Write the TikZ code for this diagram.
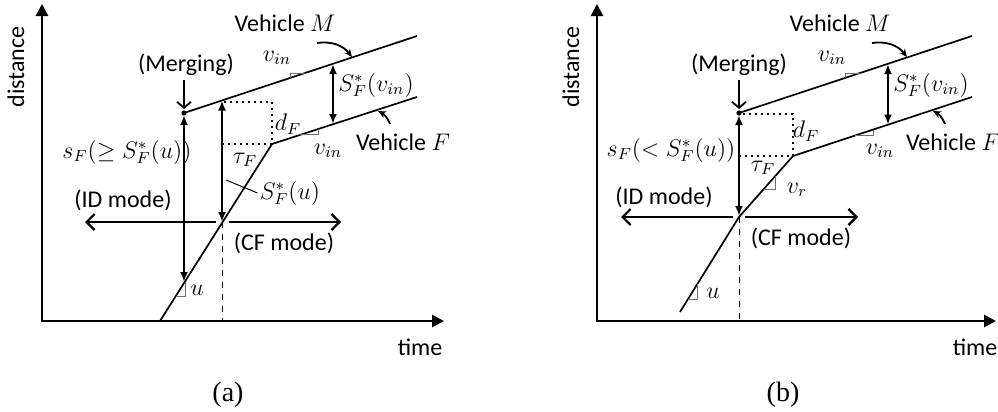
\documentclass[tikz,border=0pt]{standalone}
\usepackage{fontspec}
\setmainfont{Liberation Serif}
\newfontfamily\labelfont{Carlito}
\usepackage{tikz}
\usetikzlibrary{arrows.meta, positioning, calc}
\definecolor{mkgray}{RGB}{110,110,110}

\begin{document}
\begin{tikzpicture}[x=0.5pt, y=-0.5pt,
  lbl/.style={font=\labelfont\fontsize{12}{14}\selectfont, inner sep=1pt},
  mth/.style={font=\fontsize{12}{14}\selectfont, inner sep=1pt},
  capt/.style={font=\fontsize{14}{16}\selectfont},
  axis/.style={line width=1.3pt, {Triangle[length=6pt,width=6pt]}-{Triangle[length=6pt,width=6pt]}},
  traj/.style={line width=0.85pt},
  gap/.style={line width=1.1pt, {Latex[length=5pt,width=4pt]}-{Latex[length=5pt,width=4pt]}},
  mrg/.style={line width=0.9pt, -{Straight Barb[length=3pt,width=7pt]}},
  mode/.style={line width=1.1pt, -{Straight Barb[length=4pt,width=8pt]}},
  lag/.style={dotted, line width=1pt},
  slope/.style={line width=0.5pt, draw=mkgray},
  lead/.style={line width=0.5pt},
  tag/.style={line width=0.9pt, -{Stealth[length=4pt,width=3.5pt]}}
]
\useasboundingbox (0,0) rectangle (998,412);

% ---------- panel (a)
\coordinate (oA) at (42,321);
\coordinate (yA) at (42,4);
\coordinate (xA) at (444,321);
\draw[axis] (yA) -- (oA) -- (xA);
\node[lbl, rotate=90] (distA) at (16,67) {distance};
\node[lbl] (timeA) at (420,347) {time};
\node[capt] (capA) at (228,395) {(a)};

\coordinate (mA) at (184,113);
\coordinate (mEndA) at (417,36);
\coordinate (fStartA) at (160,321);
\coordinate (kA) at (272,144);
\coordinate (fEndA) at (417,97);
\draw[traj] (mA) -- (mEndA);
\draw[traj] (fStartA) -- (kA) -- (fEndA);
\fill (mA) circle[radius=1.3pt];

% headway box
\coordinate (dTopA) at (222,102);
\coordinate (dBotA) at (222,144);
\draw[lag] (dBotA) -- (kA) |- (dTopA);
\coordinate (sTopA) at (222,100.5);
\coordinate (cA) at (222,222);
\draw[gap] (sTopA) -- (cA);
\coordinate (mLowA) at (184,115);
\coordinate (sBotA) at (184,282);
\draw[gap] (mLowA) -- (sBotA);

% merging
\coordinate (mgA) at (184,80);
\coordinate (mHiA) at (184,109);
\draw[mrg] (mgA) -- (mHiA);
\node[lbl] (mgLblA) at (186,65) {(Merging)};

% modes
\coordinate (cLA) at (216,222);
\coordinate (cRA) at (229,222);
\coordinate (idA) at (85,222);
\coordinate (cfA) at (341,222);
\draw[mode] (cLA) -- (idA);
\draw[mode] (cRA) -- (cfA);
\draw[dashed, line width=0.5pt] (cA) -- (cA |- oA);
\node[lbl] (idLblA) at (123,200) {(ID mode)};
\node[lbl] (cfLblA) at (284,243) {(CF mode)};

\node[mth] (sLblA) at (127,152) {$s_F(\geq S^*_F(u))$};
\node[mth] (tauA) at (245,160) {$\tau_F$};
\node[mth] (dA) at (288,124) {$d_F$};
\node[mth] (suLblA) at (290,193) {$S^*_F(u)$};
\coordinate (ldA) at (226,180);
\draw[lead] (ldA) -- (suLblA.west);

% slopes
\draw[slope] (185,282) -- (185,296) -- (176,296);
\node[mth] (uA) at (197,290) {$u$};
\draw[slope] (290,78) -- (290,73) -- (305,73);
\node[mth] (vinUA) at (277,58) {$v_{in}$};
\draw[slope] (300,134.9) -- (318,134.9) -- (318,129.1);
\node[mth] (vinLA) at (328,151) {$v_{in}$};

% desired gap
\coordinate (gTopA) at (333,64);
\coordinate (gBotA) at (333,124);
\draw[gap] (gTopA) -- (gBotA);
\node[mth] (svA) at (376,85) {$S^*_F(v_{in})$};

% vehicles
\node[lbl] (vmA) at (285,23) {Vehicle $M$};
\coordinate (vmFromA) at (317,43);
\coordinate (vmToA) at (352,57);
\draw[tag] (vmFromA) to[bend left=30] (vmToA);
\node[lbl] (vfA) at (403,142) {Vehicle $F$};
\coordinate (vfFromA) at (390,124);
\coordinate (vfToA) at (378,111);
\draw[tag] (vfFromA) to[bend right=20] (vfToA);

% ---------- panel (b)
\coordinate (oB) at (597,321);
\coordinate (yB) at (597,4);
\coordinate (xB) at (996,321);
\draw[axis] (yB) -- (oB) -- (xB);
\node[lbl, rotate=90] (distB) at (571,67) {distance};
\node[lbl] (timeB) at (975,347) {time};
\node[capt] (capB) at (783,395) {(b)};

\coordinate (mB) at (739,113);
\coordinate (mEndB) at (972,36);
\coordinate (fStartB) at (680,312);
\coordinate (cB) at (739,217);
\coordinate (kB) at (793,156);
\coordinate (fEndB) at (972,97);
\draw[traj] (mB) -- (mEndB);
\draw[traj] (fStartB) -- (cB) -- (kB) -- (fEndB);
\fill (mB) circle[radius=1.3pt];

% headway box
\coordinate (dTopB) at (739,114);
\coordinate (dBotB) at (739,156);
\draw[lag] (dBotB) -- (kB) |- (dTopB);
\coordinate (mLowB) at (739,115);
\coordinate (sBotB) at (739,216);
\draw[gap] (mLowB) -- (sBotB);

% merging
\coordinate (mgB) at (739,80);
\coordinate (mHiB) at (739,109);
\draw[mrg] (mgB) -- (mHiB);
\node[lbl] (mgLblB) at (739,65) {(Merging)};

% modes
\coordinate (cLB) at (733,217);
\coordinate (cRB) at (745,217);
\coordinate (idB) at (621,217);
\coordinate (cfB) at (858,217);
\draw[mode] (cLB) -- (idB);
\draw[mode] (cRB) -- (cfB);
\draw[dashed, line width=0.5pt] (cB) -- (cB |- oB);
\node[lbl] (idLblB) at (664,197) {(ID mode)};
\node[lbl] (cfLblB) at (801,238) {(CF mode)};

\node[mth] (sLblB) at (671,150) {$s_F(< S^*_F(u))$};
\node[mth] (tauB) at (763,168) {$\tau_F$};
\node[mth] (dB) at (806,131) {$d_F$};

% slopes
\draw[slope] (775.3,176) -- (775.3,189) -- (763.8,189);
\node[mth] (vrB) at (797,190) {$v_r$};
\draw[slope] (697.4,284) -- (697.4,299) -- (688.1,299);
\node[mth] (uB) at (713,293) {$u$};
\draw[slope] (845,78) -- (845,73) -- (860,73);
\node[mth] (vinUB) at (832,58) {$v_{in}$};
\draw[slope] (855,135.7) -- (873,135.7) -- (873,129.8);
\node[mth] (vinLB) at (880,151) {$v_{in}$};

% desired gap
\coordinate (gTopB) at (888,64);
\coordinate (gBotB) at (888,124.5);
\draw[gap] (gTopB) -- (gBotB);
\node[mth] (svB) at (931,85) {$S^*_F(v_{in})$};

% vehicles
\node[lbl] (vmB) at (840,23) {Vehicle $M$};
\coordinate (vmFromB) at (872,43);
\coordinate (vmToB) at (907,57);
\draw[tag] (vmFromB) to[bend left=30] (vmToB);
\node[lbl] (vfB) at (953,142) {Vehicle $F$};
\coordinate (vfFromB) at (945,124);
\coordinate (vfToB) at (933,111);
\draw[tag] (vfFromB) to[bend right=20] (vfToB);
\end{tikzpicture}
\end{document}
